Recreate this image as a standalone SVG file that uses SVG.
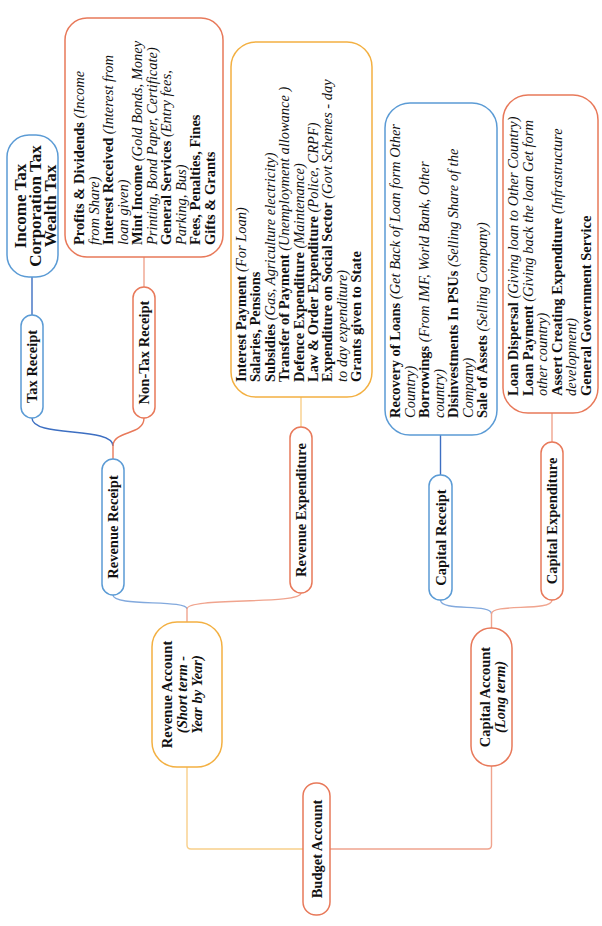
<svg xmlns="http://www.w3.org/2000/svg" width="602" height="926" viewBox="0 0 602 926">
<style>
.nb{fill:#fff;stroke:#5b9bd5;stroke-width:1.5}
.no{fill:#fff;stroke:#e8795a;stroke-width:1.5}
.ng{fill:#fff;stroke:#f3b042;stroke-width:1.5}
text{font-family:"Liberation Serif","DejaVu Serif",serif;font-size:14.5px;fill:#111}
.c{text-anchor:middle;font-weight:bold}
.b{font-weight:bold}
.i{font-style:italic;font-weight:normal}
.bi{font-style:italic;font-weight:bold}
#connectors path{fill:none;stroke-width:1.4}
.kb{stroke:#3d6fc2}
.klb{stroke:#82a9dd}
.ko{stroke:#e8795a}
.klo{stroke:#f0a48e}
.ky{stroke:#f8cf8a}
</style>
<rect width="602" height="926" fill="#fff"/>
<g id="connectors">
<path class="kb" d="M32,277 V315"/>
<path class="klo" d="M144,257 V287"/>
<path class="kb" d="M32,418 C32,438 113,426 113,446"/>
<path class="ko" d="M144,418 C144,436 113,430 113,446"/>
<path class="ko" d="M113,446 V459"/>
<path class="klb" d="M113,595 C113,607 187,599 187,609"/>
<path class="klo" d="M301,593 C301,605 187,597 187,609"/>
<path class="klo" d="M187,609 V622"/>
<path class="ky" d="M301,397 V427"/>
<path class="kb" d="M440.5,435 V475"/>
<path class="klo" d="M552,413 V442"/>
<path class="klb" d="M440.5,600 C440.5,612 491.5,603 491.5,614"/>
<path class="klo" d="M552,600 C552,612 491.5,603 491.5,614"/>
<path class="klo" d="M491.5,614 V628"/>
<path class="ky" d="M187,767 V845 Q187,849 191,849 H303"/>
<path class="klo" d="M330,849 H487.5 Q491.5,849 491.5,845 V766"/>
</g>
<g id="income-tax">
<rect class="nb" x="7" y="135" width="51" height="142" rx="22"/>
<text class="c" style="font-size:17px" transform="translate(26,206) rotate(-90)"><tspan x="0" y="0">Income Tax</tspan><tspan x="0" dy="14.8">Corporation Tax</tspan><tspan x="0" dy="14.8">Wealth Tax</tspan></text>
</g>
<g id="tax-receipt">
<rect class="nb" x="21" y="315" width="22" height="103" rx="11"/>
<text class="c" transform="translate(37,366.5) rotate(-90)">Tax Receipt</text>
</g>
<g id="non-tax-receipt">
<rect class="no" x="133" y="287" width="22" height="131" rx="11"/>
<text class="c" transform="translate(149,352.5) rotate(-90)">Non-Tax Receipt</text>
</g>
<g id="non-tax-items">
<rect class="no" x="65" y="18" width="158" height="239" rx="22"/>
<text transform="translate(84,245) rotate(-90)"><tspan x="0" y="0" class="b">Profits &amp; Dividends </tspan><tspan class="i">(Income</tspan><tspan x="0" dy="14.5" class="i">from Share)</tspan><tspan x="0" dy="14.5" class="b">Interest Received </tspan><tspan class="i">(Interest from</tspan><tspan x="0" dy="14.5" class="i">loan given)</tspan><tspan x="0" dy="14.5" class="b">Mint Income </tspan><tspan class="i">(Gold Bonds, Money</tspan><tspan x="0" dy="14.5" class="i">Printing, Bond Paper, Certificate)</tspan><tspan x="0" dy="14.5" class="b">General Services </tspan><tspan class="i">(Entry fees,</tspan><tspan x="0" dy="14.5" class="i">Parking, Bus)</tspan><tspan x="0" dy="14.5" class="b">Fees, Penalties, Fines</tspan><tspan x="0" dy="14.5" class="b">Gifts &amp; Grants</tspan></text>
</g>
<g id="revenue-receipt">
<rect class="nb" x="102" y="459" width="22" height="136" rx="11"/>
<text class="c" transform="translate(118,527) rotate(-90)">Revenue Receipt</text>
</g>
<g id="revenue-expenditure-items">
<rect class="ng" x="231" y="42" width="141" height="355" rx="25"/>
<text transform="translate(246,382) rotate(-90)"><tspan x="0" y="0" class="b">Interest Payment </tspan><tspan class="i">(For Loan)</tspan><tspan x="0" dy="14.4" class="b">Salaries, Pensions</tspan><tspan x="0" dy="14.4" class="b">Subsidies </tspan><tspan class="i">(Gas, Agriculture electricity)</tspan><tspan x="0" dy="14.4" class="b">Transfer of Payment </tspan><tspan class="i">(Unemployment allowance )</tspan><tspan x="0" dy="14.4" class="b">Defence Expenditure </tspan><tspan class="i">(Maintenance)</tspan><tspan x="0" dy="14.4" class="b">Law &amp; Order Expenditure </tspan><tspan class="i">(Police, CRPF)</tspan><tspan x="0" dy="14.4" class="b">Expenditure on Social Sector </tspan><tspan class="i">(Govt Schemes - day</tspan><tspan x="0" dy="14.4" class="i">to day expenditure)</tspan><tspan x="0" dy="14.4" class="b">Grants given to State</tspan></text>
</g>
<g id="revenue-expenditure">
<rect class="no" x="290" y="427" width="22" height="166" rx="11"/>
<text class="c" transform="translate(306,510) rotate(-90)">Revenue Expenditure</text>
</g>
<g id="capital-receipt-items">
<rect class="nb" x="385" y="103" width="112" height="332" rx="25"/>
<text transform="translate(400,418) rotate(-90)"><tspan x="0" y="0" class="b">Recovery of Loans </tspan><tspan class="i">(Get Back of Loan form Other</tspan><tspan x="0" dy="14.5" class="i">Country)</tspan><tspan x="0" dy="14.5" class="b">Borrowings </tspan><tspan class="i">(From IMF, World Bank, Other</tspan><tspan x="0" dy="14.5" class="i">country)</tspan><tspan x="0" dy="14.5" class="b">Disinvestments In PSUs </tspan><tspan class="i">(Selling Share of the</tspan><tspan x="0" dy="14.5" class="i">Company)</tspan><tspan x="0" dy="14.5" class="b">Sale of Assets </tspan><tspan class="i">(Selling Company)</tspan></text>
</g>
<g id="capital-receipt">
<rect class="nb" x="429" y="475" width="23" height="125" rx="11"/>
<text class="c" transform="translate(445.5,537.5) rotate(-90)">Capital Receipt</text>
</g>
<g id="capital-expenditure-items">
<rect class="no" x="503" y="95" width="95" height="318" rx="25"/>
<text transform="translate(518,396) rotate(-90)"><tspan x="0" y="0" class="b">Loan Dispersal </tspan><tspan class="i">(Giving loan to Other Country)</tspan><tspan x="0" dy="14.5" class="b">Loan Payment </tspan><tspan class="i">(Giving back the loan Get form</tspan><tspan x="0" dy="14.5" class="i">other country)</tspan><tspan x="0" dy="14.5" class="b">Assert Creating Expenditure </tspan><tspan class="i">(Infrastructure</tspan><tspan x="0" dy="14.5" class="i">development)</tspan><tspan x="0" dy="14.5" class="b">General Government Service</tspan></text>
</g>
<g id="capital-expenditure">
<rect class="no" x="541" y="442" width="22" height="158" rx="11"/>
<text class="c" transform="translate(557,521) rotate(-90)">Capital Expenditure</text>
</g>
<g id="revenue-account">
<rect class="ng" x="152" y="622" width="70" height="145" rx="25"/>
<text class="c" transform="translate(172,694.5) rotate(-90)"><tspan x="0" y="0">Revenue Account</tspan><tspan x="0" dy="14.8" class="bi">(Short term -</tspan><tspan x="0" dy="14.8" class="bi">Year by Year)</tspan></text>
</g>
<g id="capital-account">
<rect class="no" x="471" y="628" width="41" height="138" rx="20"/>
<text class="c" transform="translate(490,697) rotate(-90)"><tspan x="0" y="0">Capital Account</tspan><tspan x="0" dy="15" class="bi">(Long term)</tspan></text>
</g>
<g id="budget-account">
<rect class="no" x="303" y="783" width="27" height="132" rx="13"/>
<text class="c" transform="translate(321.5,849) rotate(-90)">Budget Account</text>
</g>
</svg>
